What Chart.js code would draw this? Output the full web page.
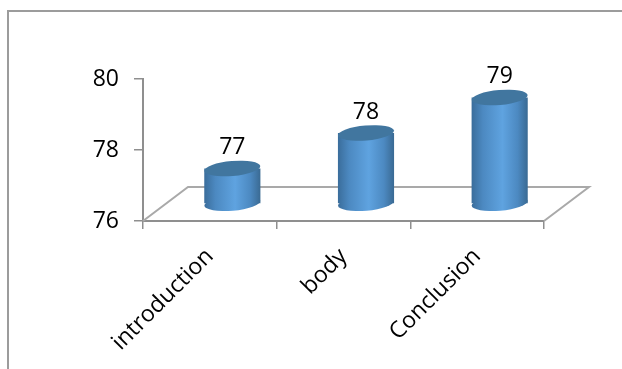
<!DOCTYPE html>
<html>
<head>
<meta charset="utf-8">
<style>
  html, body { margin: 0; padding: 0; background: #fff; }
  #wrap { position: relative; width: 622px; height: 369px; overflow: hidden; }
  #frame { position: absolute; left: 7px; top: 10px; width: 700px; height: 500px; border: 2px solid #9c9c9c; }
  canvas { position: absolute; left: 0; top: 0; }
</style>
<script src="https://cdn.jsdelivr.net/npm/chart.js@4"></script>
</head>
<body>
<div id="wrap">
  <div id="frame"></div>
  <canvas id="chart" width="622" height="369"></canvas>
</div>
<script>
const categorias = ['introduction', 'body', 'Conclusion'];
const valores = [77, 78, 79];
const ticksY = [76, 78, 80];

// Profundidad del piso en pixeles; las barras quedan a la mitad
const fondoX = 45;
const fondoY = 34;
const anchoRelativo = 0.42;
const fuente = '"Open Sans", sans-serif';

const degradado = (ctx, izq, der) => {
    const g = ctx.createLinearGradient(izq, 0, der, 0);
    g.addColorStop(0, '#3a6d9b');
    g.addColorStop(0.2, '#4c89c1');
    g.addColorStop(0.55, '#5fa3e0');
    g.addColorStop(0.82, '#4c89c1');
    g.addColorStop(1, '#3a6a93');
    return g;
};

const elipse = (ctx, x, y, ancho, fill) => {
    ctx.beginPath();
    ctx.ellipse(x, y, ancho / 2, 7.5, -5 * Math.PI / 180, 0, Math.PI * 2);
    ctx.fillStyle = fill;
    ctx.fill();
};

// Piso en perspectiva, detras de las barras
const piso = {
    id: 'piso',
    beforeDatasetsDraw(chart) {
        const { ctx, chartArea: a } = chart;
        ctx.save();
        ctx.strokeStyle = '#a9a9a9';
        ctx.lineWidth = 2;
        ctx.beginPath();
        ctx.moveTo(a.left, a.bottom);
        ctx.lineTo(a.left + fondoX, a.bottom - fondoY);
        ctx.lineTo(a.right + fondoX, a.bottom - fondoY);
        ctx.lineTo(a.right, a.bottom);
        ctx.stroke();
        ctx.restore();
    }
};

// Convierte cada barra en un cilindro y le pone su etiqueta encima
const cilindros = {
    id: 'cilindros',
    beforeDatasetDraw(chart) {
        chart.ctx.save();
        chart.ctx.translate(fondoX / 2, -fondoY / 2);
    },
    afterDatasetDraw(chart, args) {
        const { ctx } = chart;
        args.meta.data.forEach((barra, i) => {
            const mitad = barra.width / 2;
            elipse(ctx, barra.x, barra.base, barra.width, degradado(ctx, barra.x - mitad, barra.x + mitad));
            elipse(ctx, barra.x, barra.y, barra.width, '#41769f');
            ctx.fillStyle = '#000';
            ctx.font = '23px ' + fuente;
            ctx.textAlign = 'center';
            ctx.textBaseline = 'middle';
            ctx.fillText(valores[i], barra.x, barra.y - 21);
        });
        ctx.restore();
    }
};

new Chart(document.getElementById('chart').getContext('2d'), {
    type: 'bar',
    data: {
        labels: categorias,
        datasets: [{
            data: valores,
            base: ticksY[0],
            barPercentage: anchoRelativo,
            categoryPercentage: 1,
            borderWidth: 0,
            clip: false,
            // el degradado va de borde a borde de cada barra
            backgroundColor: c => {
                const ejeX = c.chart.scales.x;
                const centro = ejeX ? ejeX.getPixelForValue(c.dataIndex) : NaN;
                const mitad = ejeX ? ejeX.width / categorias.length * anchoRelativo / 2 : NaN;
                if (!Number.isFinite(centro) || !Number.isFinite(mitad)) return '#4a86bd';
                return degradado(c.chart.ctx, centro - mitad, centro + mitad);
            }
        }]
    },
    options: {
        responsive: false,
        animation: false,
        layout: { padding: { top: 79, right: 78 } },
        plugins: { legend: { display: false }, tooltip: { enabled: false } },
        scales: {
            y: {
                min: 76,
                max: 80,
                afterBuildTicks: escala => { escala.ticks = ticksY.map(value => ({ value })); },
                afterFit: escala => { escala.width = 143; },
                border: { color: '#8f8f8f', width: 2 },
                grid: { drawOnChartArea: false, color: '#8f8f8f', tickLength: 9, lineWidth: 1.5 },
                ticks: { color: '#000', padding: 15, font: { family: fuente, size: 23 } }
            },
            x: {
                afterFit: escala => { escala.height = 148; },
                border: { color: '#8f8f8f', width: 2 },
                grid: { drawOnChartArea: false, offset: true, color: '#8f8f8f', tickLength: 8, lineWidth: 1.5 },
                ticks: { color: '#000', minRotation: 45, maxRotation: 45, padding: 14, font: { family: fuente, size: 23 } }
            }
        }
    },
    plugins: [piso, cilindros]
});
</script>
</body>
</html>
